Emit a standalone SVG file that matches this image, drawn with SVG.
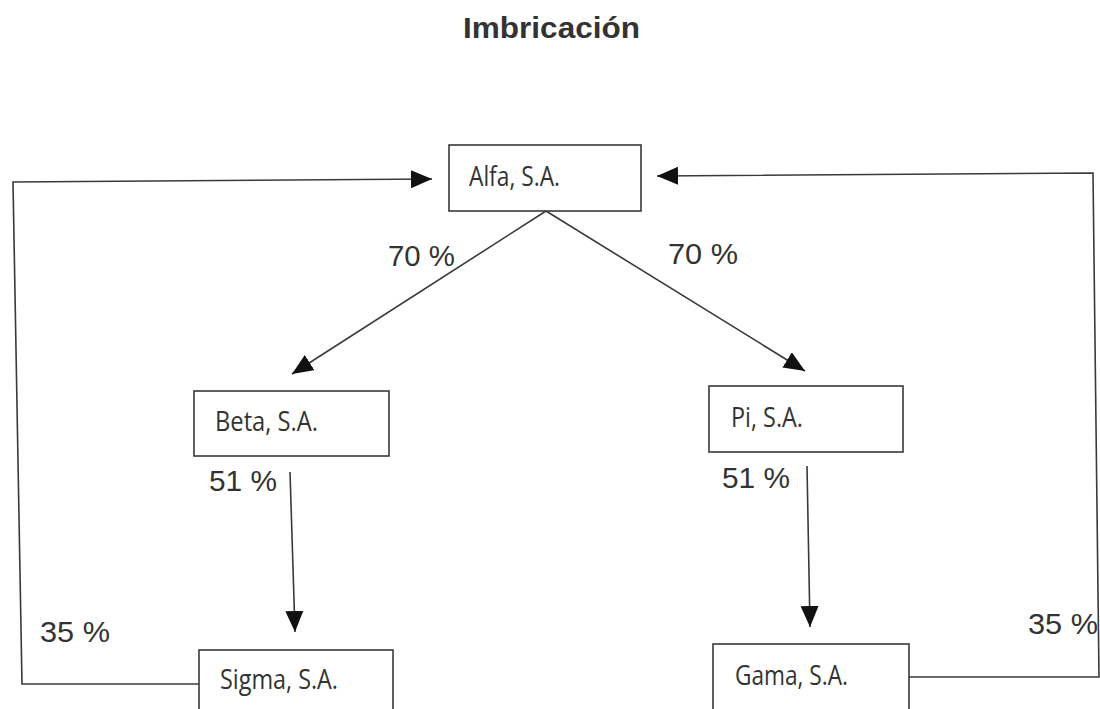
<svg xmlns="http://www.w3.org/2000/svg" width="1100" height="709" viewBox="0 0 1100 709">
  <style>
    .box { fill: #ffffff; stroke: #3a3a3a; stroke-width: 1.6; }
    .name { font-family: "Open Sans", "Liberation Sans", sans-serif; font-size: 28px; fill: #333333; }
    .pct { font-family: "Liberation Sans", Arial, sans-serif; font-size: 29px; fill: #333333; }
    .title { font-family: "Liberation Sans", Arial, sans-serif; font-size: 30px; font-weight: bold; fill: #333333; }
    .edge { fill: none; stroke: #3a3a3a; stroke-width: 1.6; }
  </style>
  <defs>
    <marker id="arrow" markerUnits="userSpaceOnUse" markerWidth="24" markerHeight="20" refX="21" refY="9" orient="auto">
      <path d="M0,0 L21,9 L0,18 Z" fill="#111111"/>
    </marker>
  </defs>
  <rect width="1100" height="709" fill="#ffffff"/>

  <text class="title" x="463" y="38" textLength="177" lengthAdjust="spacingAndGlyphs">Imbricación</text>

  <g id="connectors">
    <line class="edge" x1="546" y1="211" x2="292" y2="374" marker-end="url(#arrow)"/>
    <line class="edge" x1="546" y1="211" x2="805" y2="371" marker-end="url(#arrow)"/>
    <line class="edge" x1="290" y1="472" x2="295" y2="632" marker-end="url(#arrow)"/>
    <line class="edge" x1="807" y1="466" x2="810" y2="627" marker-end="url(#arrow)"/>
    <polyline class="edge" points="199,684 22,684 13,182 432,179" marker-end="url(#arrow)"/>
    <polyline class="edge" points="909,677 1099,677 1093,173 657,176" marker-end="url(#arrow)"/>
    <text class="pct" x="388" y="266" textLength="67" lengthAdjust="spacingAndGlyphs">70 %</text>
    <text class="pct" x="668" y="264" textLength="70" lengthAdjust="spacingAndGlyphs">70 %</text>
    <text class="pct" x="209" y="491" textLength="68" lengthAdjust="spacingAndGlyphs">51 %</text>
    <text class="pct" x="722" y="488" textLength="68" lengthAdjust="spacingAndGlyphs">51 %</text>
    <text class="pct" x="40" y="642" textLength="70" lengthAdjust="spacingAndGlyphs">35 %</text>
    <text class="pct" x="1028" y="634" textLength="70" lengthAdjust="spacingAndGlyphs">35 %</text>
  </g>

  <g id="alfa">
    <rect class="box" x="449" y="145" width="192" height="66"/>
    <text class="name" x="469" y="186" textLength="91" lengthAdjust="spacingAndGlyphs">Alfa, S.A.</text>
  </g>
  <g id="beta">
    <rect class="box" x="194" y="391" width="195" height="65"/>
    <text class="name" x="215" y="431" textLength="103" lengthAdjust="spacingAndGlyphs">Beta, S.A.</text>
  </g>
  <g id="pi">
    <rect class="box" x="709" y="386" width="194" height="66"/>
    <text class="name" x="731" y="427" textLength="72" lengthAdjust="spacingAndGlyphs">Pi, S.A.</text>
  </g>
  <g id="sigma">
    <rect class="box" x="199" y="650" width="194" height="70"/>
    <text class="name" x="220" y="689" textLength="118" lengthAdjust="spacingAndGlyphs">Sigma, S.A.</text>
  </g>
  <g id="gama">
    <rect class="box" x="713" y="644" width="196" height="70"/>
    <text class="name" x="735" y="685" textLength="113" lengthAdjust="spacingAndGlyphs">Gama, S.A.</text>
  </g>
</svg>
